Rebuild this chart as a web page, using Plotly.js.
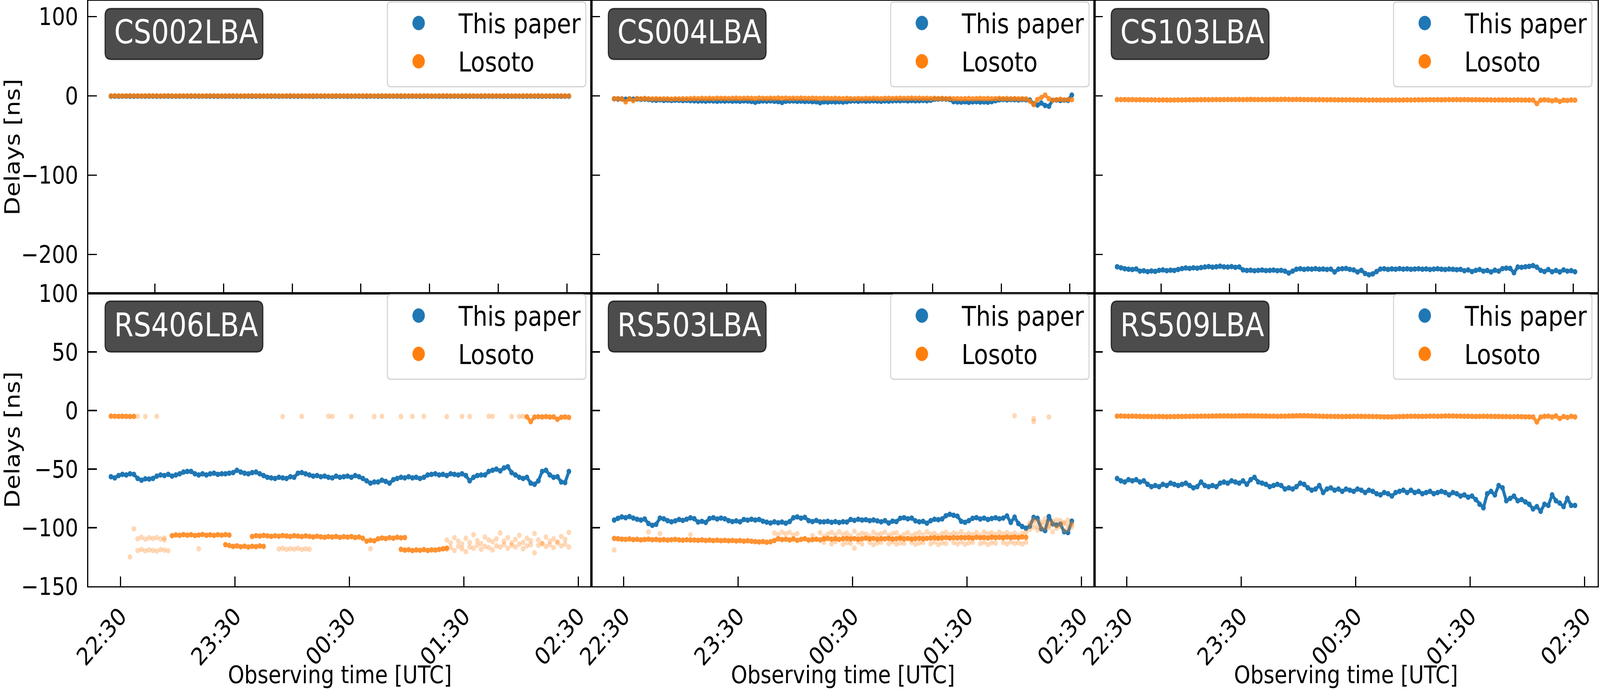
<!DOCTYPE html>
<html>
<head>
<meta charset="utf-8">
<script src="https://cdn.plot.ly/plotly-3.0.1.min.js"></script>
<style>html,body{margin:0;padding:0;background:#fff;overflow:hidden;}
#wrap{position:absolute;left:0;top:0;width:4766px;height:1764px;transform-origin:0 0;}</style>
</head>
<body>
<div id="wrap"><div id="chart" style="width:4766px;height:1764px;"></div></div>
<script>
// ---------------- DATA ----------------
const STATIONS = ['CS002LBA','CS004LBA','CS103LBA','RS406LBA','RS503LBA','RS509LBA'];
const SERIES_NAMES = ['This paper','Losoto'];
const X_TICK_TEXT_BOTTOM = ['22:30','23:30','00:30','01:30','02:30'];
const X_TICK_TIMES_BOTTOM = ['2021-01-01 22:30','2021-01-01 23:30','2021-01-02 00:30','2021-01-02 01:30','2021-01-02 02:30'];
const X_TICK_TIMES_TOP = ['2021-01-01 22:48','2021-01-01 23:24','2021-01-02 00:00','2021-01-02 00:36','2021-01-02 01:12','2021-01-02 01:48','2021-01-02 02:24'];
const Y_TICKS_TOP = [-200,-100,0,100];
const Y_TICKS_BOTTOM = [-150,-100,-50,0,50,100];
const X_RANGE = ['2021-01-01 22:13:07','2021-01-02 02:36:52'];
const Y_RANGE_TOP = [-249,120];
const Y_RANGE_BOTTOM = [-150,100];
// sampling of the read-off values: every 2 minutes from 22:25 UTC
const SAMPLE_START_UTC = [2021,0,1,22,25];
const SAMPLE_STEP_MIN = 2;
const N_SAMPLES = 121;

// delays [ns], "This paper"
const CS002_PAPER = [
-0.4,-0.3,-0.5,-0.4,-0.3,-0.4,-0.5,-0.3,-0.4,-0.4,
-0.3,-0.4,-0.5,-0.4,-0.3,-0.3,-0.4,-0.5,-0.4,-0.3,
-0.4,-0.4,-0.3,-0.5,-0.4,-0.3,-0.4,-0.4,-0.5,-0.3,
-0.4,-0.3,-0.4,-0.5,-0.4,-0.4,-0.3,-0.4,-0.5,-0.4,
-0.3,-0.4,-0.4,-0.3,-0.5,-0.4,-0.3,-0.4,-0.4,-0.5,
-0.4,-0.3,-0.4,-0.5,-0.3,-0.4,-0.4,-0.3,-0.5,-0.4,
-0.4,-0.3,-0.5,-0.4,-0.3,-0.4,-0.4,-0.5,-0.3,-0.4,
-0.5,-0.4,-0.3,-0.4,-0.4,-0.3,-0.5,-0.4,-0.4,-0.3,
-0.4,-0.5,-0.4,-0.3,-0.4,-0.4,-0.5,-0.3,-0.4,-0.4,
-0.3,-0.4,-0.5,-0.4,-0.4,-0.3,-0.4,-0.5,-0.4,-0.3,
-0.4,-0.4,-0.3,-0.5,-0.4,-0.4,-0.3,-0.4,-0.5,-0.4,
-0.3,-0.4,-0.4,-0.5,-0.3,-0.4,-0.4,-0.3,-0.5,-0.4,
-0.4];
const CS004_PAPER = [
-3.6,-4.0,-3.8,-4.2,-3.7,-4.1,-3.9,-4.3,-4.0,-4.5,
-5.2,-5.5,-5.0,-5.6,-5.3,-5.8,-5.4,-5.5,-5.9,-5.6,-6.0,
-6.2,-6.5,-6.3,-6.6,-6.1,-6.4,-6.7,-6.3,-6.5,-6.2,-6.6,-6.4,-6.8,-6.3,-6.5,-7.0,-8.0,-6.9,-6.4,-6.6,-6.3,-6.7,-7.1,-8.2,-6.8,-6.5,-6.4,-6.9,-6.6,-7.0,-6.8,-7.2,
-7.4,-8.6,-7.5,-7.8,-7.3,-7.6,-7.4,-7.7,-7.2,
-6.5,-6.3,-6.7,-6.2,-6.6,-6.4,-6.1,-6.5,-6.8,-6.3,-6.6,-6.2,-6.0,
-6.1,-5.8,-6.3,-5.9,-6.2,-6.0,-5.7,-6.1,-5.5,
-4.2,-4.0,-3.8,-4.1,-4.5,
-7.2,-7.6,-7.9,-7.4,-8.1,-7.5,-7.3,-7.8,-7.6,-8.0,-7.2,-6.0,
-4.9,-4.6,-5.0,-4.7,-4.8,-5.1,-4.6,-4.9,-5.2,
-10.0,-11.5,-9.0,-12.0,-13.0,
-5.5,-5.2,-5.8,-5.4,-5.6,
1.0];
const CS103_PAPER = [
-215.5,-216.8,
-218.0,-218.6,-219.0,-218.2,
-221.0,-220.5,-221.6,-220.8,-221.3,
-220.0,-219.5,-220.4,-219.8,-220.2,-219.0,
-217.8,-217.0,-217.6,-216.8,-217.3,-216.5,
-215.8,-215.2,-216.0,-215.5,-214.8,-215.6,-215.9,-215.3,-216.2,-215.7,
-219.5,-220.2,-219.8,-220.5,-220.0,-219.6,-220.3,-220.1,-219.7,-220.4,-220.0,-221.0,-223.4,
-221.0,-218.6,-218.0,-218.8,-218.2,-218.5,-217.9,-218.6,-218.3,-218.9,-218.4,
-222.0,
-218.5,-218.0,-217.6,-218.8,-219.5,
-222.0,-220.0,
-224.0,-225.6,-224.5,
-221.5,
-218.4,-218.0,-218.8,-218.2,-218.6,-217.9,-218.5,-218.1,-218.7,-218.3,-218.0,-218.6,-218.2,-218.9,-218.4,-218.0,-218.6,-219.0,-218.3,-218.7,-219.2,-218.8,
-220.5,-219.5,-221.5,-220.0,-219.0,-221.0,-220.2,-222.0,-219.8,-221.0,
-217.8,-217.2,-217.6,
-223.0,
-215.8,-216.2,-215.5,-215.0,-214.0,-216.0,
-220.0,-221.5,-219.0,-221.8,-220.2,-222.0,-219.5,-221.0,-220.4,-221.8];
const RS406_PAPER = [
-56.5,-57.5,-55.5,
-54.5,-55.0,-54.0,-54.5,
-58.0,-59.5,
-58.3,-58.5,-58.0,
-56.0,-55.0,-55.5,-54.5,-56.0,-55.0,-54.0,
-52.5,-52.0,-52.0,
-54.0,-55.0,-54.0,-55.0,-54.0,-53.5,-54.5,-54.0,-54.0,-53.5,-53.0,
-51.0,
-52.5,-53.5,-54.0,-53.0,-52.5,-54.0,
-55.5,
-57.0,-57.5,-58.0,-57.0,-57.5,-58.0,-56.5,-57.0,
-53.5,-53.0,-54.0,
-55.0,-56.0,-55.5,-56.5,-56.0,-57.0,-57.5,
-56.0,-57.0,-56.5,-56.0,-57.0,-55.5,-56.5,-58.0,
-60.0,-62.0,-61.0,
-61.0,-59.5,-60.5,-62.0,-59.0,
-58.0,-57.0,-57.5,-56.5,-57.5,-57.0,-58.0,-57.0,
-55.0,-54.5,-54.0,-55.0,-54.5,-55.5,-54.0,-54.5,-55.0,-54.0,-55.5,
-60.0,
-57.0,-55.5,-55.0,-55.0,
-52.0,-51.0,-50.0,-51.5,
-49.0,-48.0,-53.0,
-55.0,-57.0,-58.0,-57.0,
-62.0,-63.0,-60.0,
-52.0,-51.0,
-55.0,-57.0,-56.5,
-61.0,-61.5,-52.0];
const RS503_PAPER = [
-93.5,
-92.0,-90.8,-91.5,-90.5,-91.8,
-92.8,-93.5,-92.6,
-96.5,-98.0,-97.2,
-91.8,-92.4,
-94.0,-95.0,-94.2,
-93.0,-93.8,-92.8,
-91.6,-92.3,
-95.2,-94.6,-95.5,
-92.2,-91.5,-92.6,-91.8,-92.4,
-94.0,-94.8,-94.2,-95.0,
-93.0,-93.6,-92.8,-93.5,-93.0,-94.5,
-95.3,-96.0,-95.0,-95.8,-95.2,-96.2,-94.8,
-91.5,-90.8,-91.9,-91.2,
-94.0,-94.8,-93.8,-95.0,
-95.0,-94.6,-95.4,-94.8,-95.6,-94.9,-95.2,
-93.0,-93.8,-92.8,-93.5,-93.2,-94.0,-93.4,
-94.2,-95.0,-94.0,-96.0,-94.4,-94.8,
-92.0,-91.5,-92.4,-91.8,
-94.2,-95.0,-94.6,-96.2,-94.0,
-92.8,-93.2,-92.5,
-89.8,-88.6,-89.4,-90.2,
-94.6,-95.4,-94.0,
-92.0,-91.4,-92.6,-91.8,-93.0,-92.2,-91.5,-92.4,-91.8,
-90.0,-95.5,-91.0,-96.5,
-99.0,-100.5,-98.8,
-91.2,-92.0,
-101.0,-102.5,
-90.5,
-96.8,-97.8,-97.0,
-103.5,-104.2,
-94.4];
const RS509_PAPER = [
-58,-60,-61,-59,-60,-59,-61,-60,-63,-65,
-64,-65,-63,-64,-62,-63,-64,-63,-62,-64,
-66,-65,-61,-64,-65,-64,-65,-62,-61,-62,
-60,-61,-62,-60,-63,-59,-57,-61,-62,-63,
-65,-64,-63,-64,-67,-66,-67,-65,-62,-63,
-66,-68,-67,-64,-70,-67,-66,-68,-67,-69,
-67,-68,-69,-67,-68,-70,-68,-69,-71,-72,
-70,-71,-73,-70,-69,-68,-70,-68,-70,-69,
-71,-70,-69,-71,-70,-69,-70,-72,-70,-71,
-73,-72,-74,-73,-76,-80,-83,-71,-69,-72,
-64,-66,-77,-75,-73,-77,-76,-78,-80,-84,
-82,-86,-80,-81,-72,-77,-79,-82,-75,-81,
-81];

// delays [ns], "Losoto" (dense runs: [first sample, values])
const CS002_LOSOTO = [[0,[
0.0,0.1,0.0,-0.1,0.0,0.1,0.0,0.0,-0.1,0.0,
0.1,0.0,0.0,-0.1,0.0,0.1,0.0,-0.1,0.0,0.0,
0.0,0.1,0.0,0.0,-0.1,0.0,0.1,0.0,0.0,-0.1,
0.0,0.0,0.1,0.0,-0.1,0.0,0.0,0.1,0.0,0.0,
-0.1,0.0,0.1,0.0,0.0,-0.1,0.0,0.1,0.0,0.0,
0.0,-0.1,0.0,0.1,0.0,0.0,0.0,-0.1,0.0,0.1,
0.0,0.0,0.1,0.0,-0.1,0.0,0.0,0.1,0.0,-0.1,
0.0,0.1,0.0,0.0,-0.1,0.0,0.1,0.0,0.0,0.0,
-0.1,0.0,0.1,0.0,0.0,-0.1,0.0,0.0,0.1,0.0,
0.0,-0.1,0.0,0.1,0.0,0.0,-0.1,0.0,0.1,0.0,
0.0,0.0,-0.1,0.0,0.1,0.0,0.0,-0.1,0.0,0.1,
0.0,0.0,0.1,0.0,-0.1,0.0,0.0,0.1,0.0,-0.1,
0.0]]];
const CS004_LOSOTO = [[0,[
-3.6,-3.4,-3.8,-7.5,-3.5,-6.0,-3.3,-3.7,-3.2,-3.6,
-3.8,-3.5,-3.9,-3.6,-3.7,-4.0,-3.6,-3.8,-3.5,-3.7,
-3.4,-3.2,-3.5,-3.0,-3.3,-3.1,-3.4,-2.9,-3.2,-3.0,
-3.3,-3.1,-2.8,-3.2,-3.0,-2.9,-3.1,-3.3,-2.8,-3.0,
-3.2,-2.9,-3.1,-2.7,-3.0,-2.8,-3.2,-2.9,-3.1,-2.8,
-3.0,-3.2,-2.9,-3.1,-3.3,-3.0,-3.2,-3.4,-3.1,-3.3,
-3.5,-3.2,-3.4,-3.6,-3.3,-3.5,-3.2,-3.4,-3.1,-3.3,
-3.5,-3.2,-3.0,-3.3,-3.1,-2.9,-3.2,-3.0,-2.8,-3.1,
-2.9,-3.2,-3.0,-3.3,-3.1,-3.4,-3.2,-3.5,-3.3,-3.6,
-3.4,-3.7,-3.5,-3.3,-3.6,-3.4,-3.2,-3.5,-3.3,-3.6,
-3.4,-3.2,-3.5,-3.3,-3.6,-3.4,-3.7,-3.5,-3.8,-6.5,
-11.0,-4.5,-2.0,1.0,-3.5,-5.5,-4.8,-4.2,-5.0,-4.6,
-4.8]]];
const CS103_LOSOTO = [[0,[
-4.6,-4.7,-4.6,-4.8,-4.7,-4.9,-4.8,-4.9,-5.0,-4.9,
-5.0,-5.1,-5.0,-5.1,-5.2,-5.1,-5.0,-5.1,-5.0,-4.9,
-4.9,-4.8,-4.8,-4.7,-4.8,-4.7,-4.6,-4.7,-4.6,-4.5,
-4.6,-4.5,-4.5,-4.6,-4.5,-4.4,-4.5,-4.6,-4.5,-4.6,
-4.5,-4.4,-4.5,-4.4,-4.3,-4.4,-4.5,-4.4,-4.5,-4.6,
-4.7,-4.6,-4.8,-4.7,-4.8,-4.9,-4.8,-4.9,-5.0,-4.9,
-5.0,-4.9,-5.0,-5.1,-5.0,-5.1,-5.2,-5.1,-5.2,-5.3,
-5.2,-5.3,-5.2,-5.1,-5.2,-5.1,-5.0,-5.1,-5.0,-4.9,
-5.0,-4.9,-4.8,-4.9,-4.8,-4.9,-4.8,-4.7,-4.8,-4.7,
-4.8,-4.7,-4.8,-4.9,-4.8,-4.9,-5.0,-4.9,-5.0,-5.1,
-5.0,-5.1,-5.0,-5.2,-5.1,-5.0,-5.2,-5.1,-5.3,-5.2,
-9.7,-5.4,-4.9,-5.3,-6.2,-5.0,-7.0,-5.4,-5.8,-5.1,
-5.4]]];
const RS406_LOSOTO = [
[0,[-4.8,-4.9,-5.0,-4.9,-5.0,-5.1,-5.0]],
[109,[-5.4,-9.5,-5.6,-5.3,-5.5,-5.2,-5.6,-5.4,-7.5,-5.8,-5.5,-5.9]],
[16,[-106.8,-106.2,-106.5,-105.9,-106.4,-106.0,-106.7,-106.3,-105.8,-106.5,-106.1,-106.6,-106.0,-106.4,-105.9,-106.3]],
[37,[-107.5,-106.8,-107.2,-106.6,-107.0,-107.4,-106.9,-107.3,-106.7,-107.1,-107.5,-106.8,-107.2,-107.6,-107.0]],
[52,[-107.4,-107.9,-107.3,-107.8,-108.2,-107.6,-108.0,-107.5,-108.3,-107.7,-108.1,-107.6,-108.4,-107.9,-109.0]],
[67,[-111.5,-110.8,-111.2,-109.5,-108.8,-109.3,-108.5,-109.0,-108.2,-108.7,-108.4]],
[30,[-114.5,-115.2,-116.0,-115.5,-116.3,-115.8,-116.5,-115.9,-116.2,-115.6,-116.0]],
[76,[-118.5,-119.2,-118.8,-119.5,-119.0,-119.3,-118.7,-119.4,-118.9,-119.1,-118.6,-118.0,-117.5]]];
const RS503_LOSOTO = [[0,[
-109.2,
-109.4,-109.8,-110.0,-109.6,-110.2,-109.9,-110.4,-110.1,-109.8,-110.3,-110.0,-110.5,-110.2,-110.6,-110.3,-110.0,-110.4,-110.7,-110.3,-110.6,
-110.5,-110.8,-110.4,-110.9,-110.6,-111.0,-110.7,-111.1,-110.8,-111.2,-110.9,-111.3,-111.0,-111.5,-111.2,-111.6,-111.9,-112.2,-111.8,-112.4,-112.0,-111.0,
-109.5,-110.2,-109.8,-110.5,-109.6,-110.8,-110.0,-109.4,-110.6,-110.2,-109.8,-110.4,
-109.6,-109.2,-109.8,-109.4,-110.0,-109.5,-109.1,-109.7,-109.3,-109.9,-109.4,-109.0,-109.6,-109.2,-109.8,-109.3,-109.5,-109.1,-109.7,-109.4,-109.0,-109.6,-109.2,-109.8,-109.4,-109.0,-109.5,-109.1,
-108.9,-108.6,-109.1,-108.7,-108.4,-108.9,-108.5,-108.8,-108.3,-108.7,-108.4,-108.9,-108.2,-108.6,-108.3,-108.8,-108.1,-108.5,-108.2,-108.6,-108.0,-108.4,-108.1,-108.5,-107.9,-108.2]]];
const RS509_LOSOTO = [[0,[
-4.8,-4.7,-4.8,-4.9,-4.8,-4.9,-5.0,-5.1,-5.1,-5.2,
-5.2,-5.1,-5.2,-5.3,-5.2,-5.2,-5.1,-5.1,-5.0,-5.0,
-4.9,-4.9,-4.8,-4.8,-4.8,-4.7,-4.7,-4.6,-4.6,-4.6,
-4.7,-4.7,-4.6,-4.5,-4.5,-4.5,-4.6,-4.6,-4.7,-4.7,
-4.8,-4.8,-4.9,-4.8,-4.8,-4.7,-4.6,-4.5,-4.4,-4.4,
-4.5,-4.6,-4.7,-4.8,-4.9,-5.0,-5.0,-5.1,-5.1,-5.2,
-5.1,-5.1,-5.0,-5.0,-5.0,-5.1,-5.1,-5.2,-5.2,-5.3,
-5.4,-5.4,-5.5,-5.3,-5.2,-5.1,-5.0,-4.9,-4.9,-5.0,
-5.0,-4.9,-4.8,-4.8,-4.9,-4.8,-4.7,-4.7,-4.7,-4.8,
-4.8,-4.9,-4.9,-5.0,-5.1,-5.0,-4.9,-5.0,-5.0,-5.1,
-5.1,-5.2,-5.2,-5.3,-5.3,-5.2,-5.3,-5.4,-5.4,-5.5,
-9.8,-5.6,-5.0,-4.8,-5.6,-4.6,-6.8,-5.2,-5.9,-5.0,
-5.5]]];

// "Losoto" sparse / faint points: runs [first sample, values] and single points
const CS002_LOSOTO_FAINT = [];
const CS004_LOSOTO_FAINT = [];
const CS103_LOSOTO_FAINT = [];
const RS509_LOSOTO_FAINT = [];
const RS406_LOSOTO_FAINT = [
[6,[-101.0,-109.5,-108.2,-109.8,-108.6,-109.2,-108.4,-109.6,-108.8]],
[5,[-125.0,null,-119.5,-118.6,-119.8,-118.9,-119.4,-120.0,-118.7,-119.2,-119.6]],
[44,[-118.2,-117.6,-118.5,-117.9,-118.3,-117.7,-118.6,-118.0,-118.4]],
[88,[-110.5,-113.0,-108.5,-111.5,-114.0,-109.0,-112.5,-106.0,-111.0,-113.5,-108.0,-110.5,-112.0,-109.5,-104.5,-111.5,-108.5,-113.0,-110.0,-106.5,-112.5,-109.0,-111.0,-105.0,-110.5,-113.5,-108.0,-111.5,-109.5,-112.0,-107.5,-110.0,-104.0]],
[88,[-118.5,-117.0,-119.5,-116.0,-118.0,-120.5,-116.5,-117.5,-115.0,-118.5,-116.0,-117.0,-119.0,-115.5,-116.5,-114.5,-117.5,-115.0,-116.5,-114.0,-118.0,-115.5,-114.5,-121.5,-115.0,-113.5,-116.0,-114.5,-117.0,-113.0,-115.5,-114.0,-116.5]]];
const RS406_LOSOTO_FAINT_IDX = [7,9,12,45,50,57,58,63,69,71,76,79,82,88,92,94,99,100,105,107,108,23,68,14];
const RS406_LOSOTO_FAINT_VAL = [-5.0,-5.1,-4.9,-5.2,-5.0,-4.9,-5.1,-5.0,-5.2,-4.9,-5.1,-5.0,-4.9,-5.2,-5.0,-5.1,-4.9,-5.0,-5.2,-5.1,-5.0,-118.0,-118.0,-110.5];
const RS503_LOSOTO_FAINT = [
[40,[null,null,-104.5,-106.0,-103.8,-105.2,-104.0,-106.5,-105.0,null,null,null,-106.8,null,-104.2,-107.5,-105.5,-104.0,-106.2,-103.5,-105.8,-104.6,-107.0,-103.2,-106.4,-104.8,-105.5,-107.2,-104.0,-106.0,-105.2,-103.8,-106.6,-105.0,-104.4,-107.4,-105.8,-104.2,-106.8,-105.4,-104.0,-106.2,-103.6,-105.6,-104.8,-106.8,-105.0,-103.8,-106.0,-104.6,-105.4,-103.4,-106.2,-104.8,-105.8,-104.0,-106.4,-103.6,-105.2,-104.4,-106.0,-103.9,-105.5,-104.2,-105.8,-104.6,-106.6,-105.0,-103.8]],
[55,[-112.5,null,-113.8,-112.0,null,-114.2,-112.8,-113.4,null,-112.2,-113.9,null,-112.6,-114.5,-113.0,-112.4,null,-113.6,-112.1,-114.0,-112.9,-113.3,null,-112.5,-114.2,-113.1,-112.7,null,-113.8,-112.3,-114.4,-112.9,-113.5,null,-112.6,-113.9,-112.2,-114.1,-113.0,-112.5,null,-113.7,-112.4,-114.3,-112.8,-113.2,null,-112.6,-113.9,-112.1,-113.5,-112.9,-114.0,-112.4]],
[109,[-96.0,-99.5,-94.5,-98.0,-100.5,-95.5,-97.0,-93.5,-99.0,-96.5,-101.5,-97.5]],
[109,[-101.5,-93.0,-102.0,-95.0,-92.5,-100.0,-103.5,-98.5,-94.0,-102.5,-93.5,-99.5]],
[109,[-97.5,-95.0,-99.0,-101.0,-96.0,-98.5,-94.5,-100.5,-97.0,-95.5,-98.0,-96.5]]];
const RS503_LOSOTO_FAINT_IDX = [0,9,12,20,63,105,110,110,114];
const RS503_LOSOTO_FAINT_VAL = [-119.0,-103.5,-105.0,-106.0,-117.5,-4.5,-7.0,-9.5,-5.5];

const PAPER = [CS002_PAPER,CS004_PAPER,CS103_PAPER,RS406_PAPER,RS503_PAPER,RS509_PAPER];
const LOSOTO = [CS002_LOSOTO,CS004_LOSOTO,CS103_LOSOTO,RS406_LOSOTO,RS503_LOSOTO,RS509_LOSOTO];
const LOSOTO_FAINT = [CS002_LOSOTO_FAINT,CS004_LOSOTO_FAINT,CS103_LOSOTO_FAINT,RS406_LOSOTO_FAINT,RS503_LOSOTO_FAINT,RS509_LOSOTO_FAINT];
const LOSOTO_FAINT_PTS = [[[],[]],[[],[]],[[],[]],[RS406_LOSOTO_FAINT_IDX,RS406_LOSOTO_FAINT_VAL],[RS503_LOSOTO_FAINT_IDX,RS503_LOSOTO_FAINT_VAL],[[],[]]];

// ---------------- LAYOUT CONSTANTS ----------------
const W = 4766, H = 1764;
const PANEL_LEFT = [263,1762,3260], PANEL_RIGHT = 4759;
const PANEL_TOP = [2,751], PANEL_BOTTOM = 1501;
const C_PAPER = '#1f77b4', C_LOSOTO = '#ff7f0e';
const FONT = 'DejaVu Sans';
const MSIZE = 14, BAND_W = 9;

function pad2(n){return (n<10?'0':'')+n;}
function sampleTime(i){
  const s = SAMPLE_START_UTC;
  const d = new Date(Date.UTC(s[0],s[1],s[2],s[3],s[4]) + i*SAMPLE_STEP_MIN*60000);
  return d.getUTCFullYear()+'-'+pad2(d.getUTCMonth()+1)+'-'+pad2(d.getUTCDate())+' '+pad2(d.getUTCHours())+':'+pad2(d.getUTCMinutes())+':00';
}
const TIMES = [];
for (let i=0;i<N_SAMPLES;i++) TIMES.push(sampleTime(i));

// runs -> x/y, with a gap (null) after every run so that runs are not joined
function fromRuns(runs, pts){
  const x=[], y=[];
  runs.forEach(([start, vals]) => {
    vals.forEach((v,k) => { x.push(TIMES[start+k]); y.push(v); });
    x.push(TIMES[start]); y.push(null);
  });
  if (pts){ pts[0].forEach((idx,k)=>{ x.push(TIMES[idx]); y.push(pts[1][k]); }); }
  return {x,y};
}

const px2x = p => p/W;
const px2y = p => 1 - p/H;

const traces = [];
const layout = {
  width: W, height: H,
  margin: {l:0, r:0, t:0, b:0},
  paper_bgcolor: '#ffffff', plot_bgcolor: '#ffffff',
  showlegend: false,
  font: {family: FONT, size: 62, color: '#000'},
  shapes: [], annotations: []
};

function roundRect(x0,y0,x1,y1,r){
  const X = v => px2x(v).toFixed(6), Y = v => px2y(v).toFixed(6);
  return 'M'+X(x0+r)+','+Y(y0)+' L'+X(x1-r)+','+Y(y0)+' Q'+X(x1)+','+Y(y0)+' '+X(x1)+','+Y(y0+r)+
    ' L'+X(x1)+','+Y(y1-r)+' Q'+X(x1)+','+Y(y1)+' '+X(x1-r)+','+Y(y1)+
    ' L'+X(x0+r)+','+Y(y1)+' Q'+X(x0)+','+Y(y1)+' '+X(x0)+','+Y(y1-r)+
    ' L'+X(x0)+','+Y(y0+r)+' Q'+X(x0)+','+Y(y0)+' '+X(x0+r)+','+Y(y0)+' Z';
}

for (let p=0;p<6;p++){
  const col = p%3, row = Math.floor(p/3);
  const sfx = p===0 ? '' : String(p+1);
  const L = PANEL_LEFT[col], R = col<2 ? PANEL_LEFT[col+1] : PANEL_RIGHT;
  const T = PANEL_TOP[row], B = row===0 ? PANEL_TOP[1] : PANEL_BOTTOM;

  traces.push({type:'scatter', mode:'lines+markers', name:SERIES_NAMES[0], x:TIMES, y:PAPER[p],
    xaxis:'x'+sfx, yaxis:'y'+sfx, line:{color:C_PAPER, width:BAND_W},
    marker:{color:C_PAPER, size:MSIZE, line:{width:0}}, hoverinfo:'skip'});
  const d = fromRuns(LOSOTO[p]);
  traces.push({type:'scatter', mode:'lines+markers', name:SERIES_NAMES[1], x:d.x, y:d.y, connectgaps:false,
    xaxis:'x'+sfx, yaxis:'y'+sfx, opacity:0.85, line:{color:C_LOSOTO, width:BAND_W},
    marker:{color:C_LOSOTO, size:MSIZE, line:{width:0}}, hoverinfo:'skip'});
  const f = fromRuns(LOSOTO_FAINT[p], LOSOTO_FAINT_PTS[p]);
  traces.push({type:'scatter', mode:'markers', name:SERIES_NAMES[1], x:f.x, y:f.y,
    xaxis:'x'+sfx, yaxis:'y'+sfx, marker:{color:C_LOSOTO, size:MSIZE, opacity:0.3, line:{width:0}}, hoverinfo:'skip'});

  const bottom = row===1, left = col===0;
  layout['xaxis'+sfx] = {
    domain:[px2x(L), px2x(R)], anchor:'y'+sfx, type:'date', range:X_RANGE,
    tickmode:'array', tickvals: bottom ? X_TICK_TIMES_BOTTOM : X_TICK_TIMES_TOP,
    ticktext: bottom ? X_TICK_TEXT_BOTTOM : undefined,
    showticklabels: bottom, tickangle: -45,
    ticks:'inside', ticklen:25, tickwidth:3.5, tickcolor:'#000',
    showline:true, mirror:true, linecolor:'#000', linewidth:3.3,
    showgrid:false, zeroline:false,
    tickfont:{family:FONT, size:62, color:'#000'},
    ticklabelstandoff: 12,
    title: bottom ? {text:'Observing time [UTC]', font:{family:FONT, size:62, color:'#000'}, standoff:18} : {text:''}
  };
  layout['yaxis'+sfx] = {
    domain:[px2y(B), px2y(T)], anchor:'x'+sfx,
    range: row===0 ? Y_RANGE_TOP : Y_RANGE_BOTTOM,
    tickmode:'array', tickvals: row===0 ? Y_TICKS_TOP : Y_TICKS_BOTTOM,
    showticklabels: left,
    ticks:'inside', ticklen:25, tickwidth:3.5, tickcolor:'#000',
    showline:true, mirror:true, linecolor:'#000', linewidth:3.3,
    showgrid:false, zeroline:false,
    tickfont:{family:FONT, size:62, color:'#000'},
    ticklabelstandoff: 14,
    title: left ? {text:'Delays [ns]', font:{family:FONT, size:62, color:'#000'}, standoff:24} : {text:''}
  };

  // station label box
  layout.shapes.push({type:'path', xref:'paper', yref:'paper', layer:'above',
    path: roundRect(L+50, T+20, L+520, T+150, 18),
    fillcolor:'rgba(0,0,0,0.7)', line:{color:'rgba(0,0,0,0.7)', width:3.3}});
  layout.annotations.push({xref:'paper', yref:'paper', x:px2x(L+75), y:px2y(T+81),
    xanchor:'left', yanchor:'middle', showarrow:false, text:STATIONS[p],
    font:{family:FONT, size:83, color:'#ffffff'}});

  // legend box
  layout.shapes.push({type:'path', xref:'paper', yref:'paper', layer:'above',
    path: roundRect(L+891, T+3, L+1482, T+220, 10),
    fillcolor:'rgba(255,255,255,0.8)', line:{color:'rgba(204,204,204,0.8)', width:3.3}});
  const rowsY = [T+57, T+155], cols = [C_PAPER, C_LOSOTO];
  for (let k=0;k<2;k++){
    const cx = L+984, cy = rowsY[k], r = 18.5;
    layout.shapes.push({type:'circle', xref:'paper', yref:'paper', layer:'above',
      x0:px2x(cx-r), x1:px2x(cx+r), y0:px2y(cy+r), y1:px2y(cy-r),
      fillcolor:cols[k], line:{width:0}});
    layout.annotations.push({xref:'paper', yref:'paper', x:px2x(L+1100), y:px2y(cy+2),
      xanchor:'left', yanchor:'middle', showarrow:false, text:SERIES_NAMES[k],
      font:{family:FONT, size:69, color:'#000'}});
  }
}

// fit the 4766x1764 figure into the actual window
function fitToWindow(){
  const sx = Math.min(1, window.innerWidth / W), sy = Math.min(1, window.innerHeight / H);
  document.getElementById('wrap').style.transform = 'scale(' + sx + ',' + sy + ')';
}
fitToWindow();
Plotly.newPlot('chart', traces, layout, {staticPlot:true, displayModeBar:false}).then(fitToWindow);
</script>
</body>
</html>
